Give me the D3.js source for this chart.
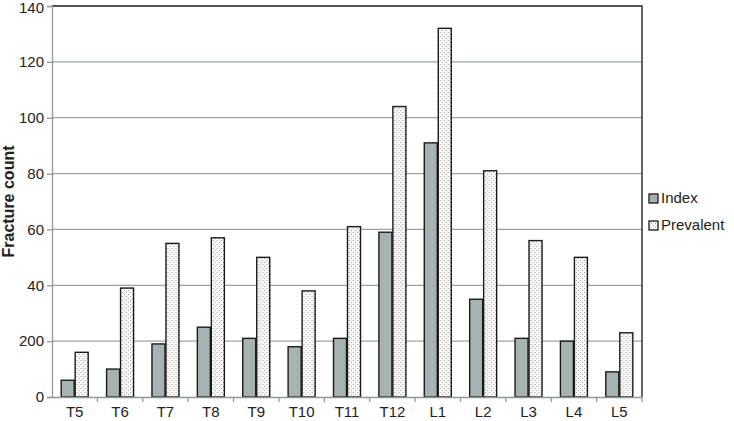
<!DOCTYPE html>
<html>
<head>
<meta charset="utf-8">
<script src="https://cdn.jsdelivr.net/npm/d3@7"></script>
<style>
  body { margin: 0; background: #fff; overflow: hidden; }
  text { font-family: "Liberation Sans", Arial, sans-serif; fill: #222; }
</style>
</head>
<body>
<div id="chart"></div>
<script>
// data
var categories = ["T5", "T6", "T7", "T8", "T9", "T10", "T11", "T12", "L1", "L2", "L3", "L4", "L5"];
var indexCounts = [6, 10, 19, 25, 21, 18, 21, 59, 91, 35, 21, 20, 9];
var prevalentCounts = [16, 39, 55, 57, 50, 38, 61, 104, 132, 81, 56, 50, 23];
var yTicks = [0, 20, 40, 60, 80, 100, 120, 140];
var yTickLabels = ["0", "200", "40", "60", "80", "100", "120", "140"];
var seriesNames = ["Index", "Prevalent"];

//============Set up chart=====================
var svgWidth = 734;
var svgHeight = 421;

var margin = { top: 6, right: 92, bottom: 24, left: 52 };
var width = 642 - margin.left;
var height = 397 - margin.top;

var svg = d3.select("#chart")
  .append("svg")
  .attr("width", svgWidth)
  .attr("height", svgHeight)
  .style("display", "block");

// dotted fill for the prevalent bars
var defs = svg.append("defs");
var pat = defs.append("pattern")
  .attr("id", "dots")
  .attr("patternUnits", "userSpaceOnUse")
  .attr("width", 4)
  .attr("height", 4);
pat.append("rect").attr("width", 4).attr("height", 4).attr("fill", "#fafafa");
pat.append("rect").attr("x", 0).attr("y", 0).attr("width", 1).attr("height", 1).attr("fill", "#9a9a9a");
pat.append("rect").attr("x", 2).attr("y", 2).attr("width", 1).attr("height", 1).attr("fill", "#9a9a9a");

var chartGroup = svg.append("g")
  .attr("transform", `translate(${margin.left}, ${margin.top})`);

var xScale = d3.scaleBand()
  .domain(categories)
  .range([0, width]);

var yScale = d3.scaleLinear()
  .domain([0, 140])
  .range([height, 0]);

// gridlines
chartGroup.append("g")
  .selectAll("line")
  .data(yTicks.slice(1))
  .enter()
  .append("line")
  .attr("x1", 0)
  .attr("x2", width)
  .attr("y1", d => yScale(d))
  .attr("y2", d => yScale(d))
  .attr("stroke", "#9aa3a3")
  .attr("stroke-width", 1.3);

// top and right frame
chartGroup.append("path")
  .attr("d", `M0,${yScale(140)}H${width}V${height}`)
  .attr("fill", "none")
  .attr("stroke", "#333")
  .attr("stroke-width", 1.5);

// bars
var barW = 13;
var groups = chartGroup.selectAll(".grp")
  .data(categories)
  .enter()
  .append("g")
  .attr("transform", d => `translate(${xScale(d) + xScale.bandwidth() / 2}, 0)`);

groups.append("rect")
  .attr("x", -barW - 0.5)
  .attr("y", (d, i) => yScale(indexCounts[i]))
  .attr("width", barW)
  .attr("height", (d, i) => height - yScale(indexCounts[i]))
  .attr("fill", "#a7b2b2")
  .attr("stroke", "#1a1a1a")
  .attr("stroke-width", 1.4);

groups.append("rect")
  .attr("x", 0.5)
  .attr("y", (d, i) => yScale(prevalentCounts[i]))
  .attr("width", barW)
  .attr("height", (d, i) => height - yScale(prevalentCounts[i]))
  .attr("fill", "url(#dots)")
  .attr("stroke", "#1a1a1a")
  .attr("stroke-width", 1.4);

// y axis
var leftAxis = d3.axisLeft(yScale)
  .tickValues(yTicks)
  .tickFormat((d, i) => yTickLabels[i])
  .tickSize(5)
  .tickPadding(3);

var yAxis = chartGroup.append("g").call(leftAxis);
yAxis.select(".domain").attr("stroke", "#8f9999").attr("stroke-width", 1.3);
yAxis.selectAll(".tick line").attr("stroke", "#8f9999").attr("stroke-width", 1.3);
yAxis.selectAll(".tick text").style("font-size", "15px").attr("fill", "#222");
// keep the top label inside the page
yAxis.selectAll(".tick text").filter(d => d === 140).attr("y", 1.5);

// x axis
var bottomAxis = d3.axisBottom(xScale).tickSize(0).tickPadding(9);
var xAxis = chartGroup.append("g")
  .attr("transform", `translate(0, ${height})`)
  .call(bottomAxis);
xAxis.select(".domain").attr("stroke", "#8f9999").attr("stroke-width", 1.3);
xAxis.selectAll(".tick text").style("font-size", "15px").attr("fill", "#222");

// small ticks between categories
chartGroup.append("g")
  .selectAll("line")
  .data(categories.slice(1).concat(["end"]))
  .enter()
  .append("line")
  .attr("x1", (d, i) => xScale.step() * (i + 1))
  .attr("x2", (d, i) => xScale.step() * (i + 1))
  .attr("y1", height)
  .attr("y2", height + 5)
  .attr("stroke", "#8f9999")
  .attr("stroke-width", 1.3);

// y axis title
svg.append("text")
  .attr("transform", `translate(14, ${margin.top + height / 2}) rotate(-90)`)
  .attr("text-anchor", "middle")
  .style("font-size", "16px")
  .style("font-weight", "bold")
  .text("Fracture count");

// legend
var legend = svg.append("g").attr("transform", "translate(649, 198)");
var fills = ["#a7b2b2", "url(#dots)"];
seriesNames.forEach(function(name, i) {
  var row = legend.append("g").attr("transform", `translate(0, ${i * 27})`);
  row.append("rect")
    .attr("x", 0).attr("y", -4)
    .attr("width", 9).attr("height", 9)
    .attr("fill", fills[i])
    .attr("stroke", "#1a1a1a")
    .attr("stroke-width", 1.3);
  row.append("text")
    .attr("x", 12)
    .attr("y", 0)
    .attr("dy", "0.35em")
    .style("font-size", "15px")
    .text(name);
});
</script>
</body>
</html>
